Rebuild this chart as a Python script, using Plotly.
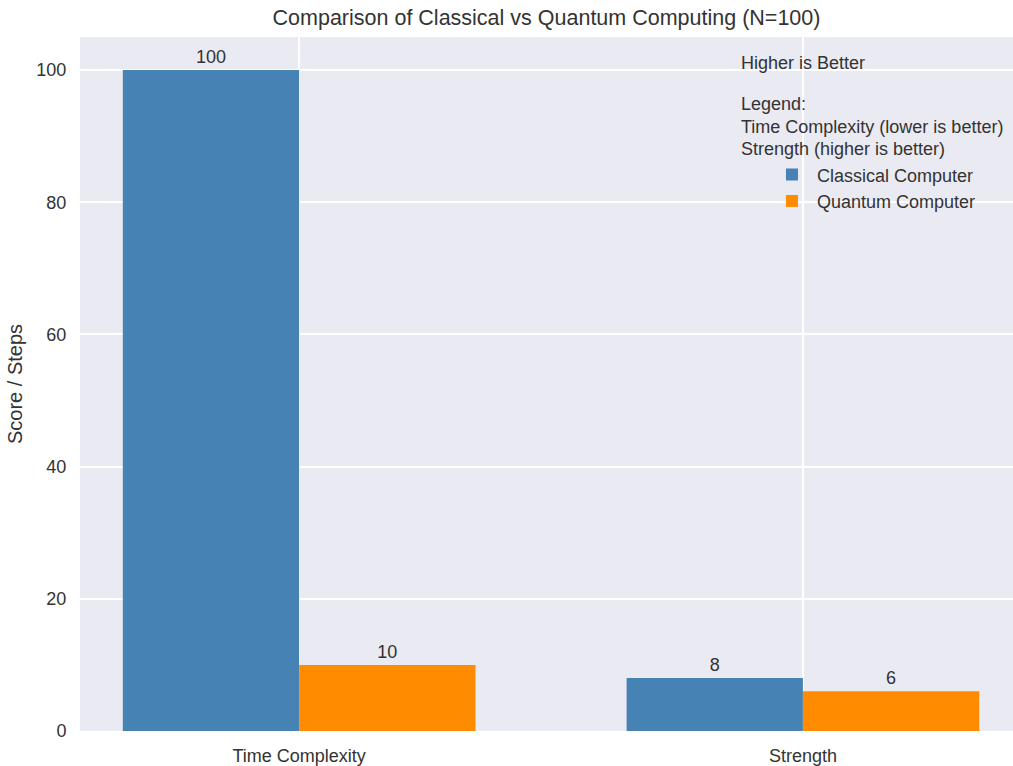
import plotly.graph_objects as go

categories = ["Time Complexity", "Strength"]
classical = [100, 8]
quantum = [10, 6]
series_names = ["Classical Computer", "Quantum Computer"]
y_ticks = [0, 20, 40, 60, 80, 100]
note_lines = ["Higher is Better", "Legend:", "Time Complexity (lower is better)",
              "Strength (higher is better)"]
note_y = [0.9626, 0.9037, 0.8707, 0.8391]

FONT = "Liberation Sans, Arial, sans-serif"
TXT = "#333333"
FS = 18

fig = go.Figure()
fig.add_trace(go.Bar(
    x=[0, 1], y=classical, name=series_names[0], marker_color="#4682B4",
    marker_line_width=0, text=[str(v) for v in classical], textposition="outside",
    textfont=dict(size=FS, color=TXT, family=FONT), cliponaxis=False,
))
fig.add_trace(go.Bar(
    x=[0, 1], y=quantum, name=series_names[1], marker_color="#FF8C00",
    marker_line_width=0, text=[str(v) for v in quantum], textposition="outside",
    textfont=dict(size=FS, color=TXT, family=FONT), cliponaxis=False,
))

fig.update_layout(
    width=1013, height=766,
    margin=dict(l=80, r=0, t=37, b=33),
    paper_bgcolor="white", plot_bgcolor="#EAEAF2",
    barmode="group", bargap=0.3, bargroupgap=0,
    font=dict(family=FONT, size=FS, color=TXT),
    title=dict(text="Comparison of Classical vs Quantum Computing (N=100)",
               x=0.5, xref="paper", y=0.977, yanchor="middle",
               font=dict(size=21.5, color=TXT, family=FONT)),
    showlegend=True,
    legend=dict(x=0.7363, y=0.828, xanchor="left", yanchor="top",
                bgcolor="rgba(0,0,0,0)", font=dict(size=FS, color=TXT),
                itemwidth=40),
    xaxis=dict(range=[-0.435, 1.417], tickmode="array", tickvals=[0, 1],
               ticktext=categories, showgrid=True, gridcolor="white", gridwidth=1.5,
               zeroline=False, showline=False, ticks="outside", ticklen=8,
               tickcolor="rgba(0,0,0,0)", tickfont=dict(size=FS, color=TXT)),
    yaxis=dict(range=[0, 105], tickmode="array", tickvals=y_ticks,
               showgrid=True, gridcolor="white", gridwidth=1.5, zeroline=False,
               showline=False, ticks="outside", ticklen=9, tickcolor="rgba(0,0,0,0)",
               tickfont=dict(size=FS, color=TXT),
               title=dict(text="Score / Steps", font=dict(size=20, color=TXT), standoff=8)),
)

for txt, yy in zip(note_lines, note_y):
    fig.add_annotation(
        text=txt, xref="paper", yref="paper", x=0.706, y=yy, xanchor="left",
        yanchor="middle", align="left", showarrow=False,
        font=dict(size=FS, color=TXT, family=FONT),
    )

fig.write_html("out.html")
